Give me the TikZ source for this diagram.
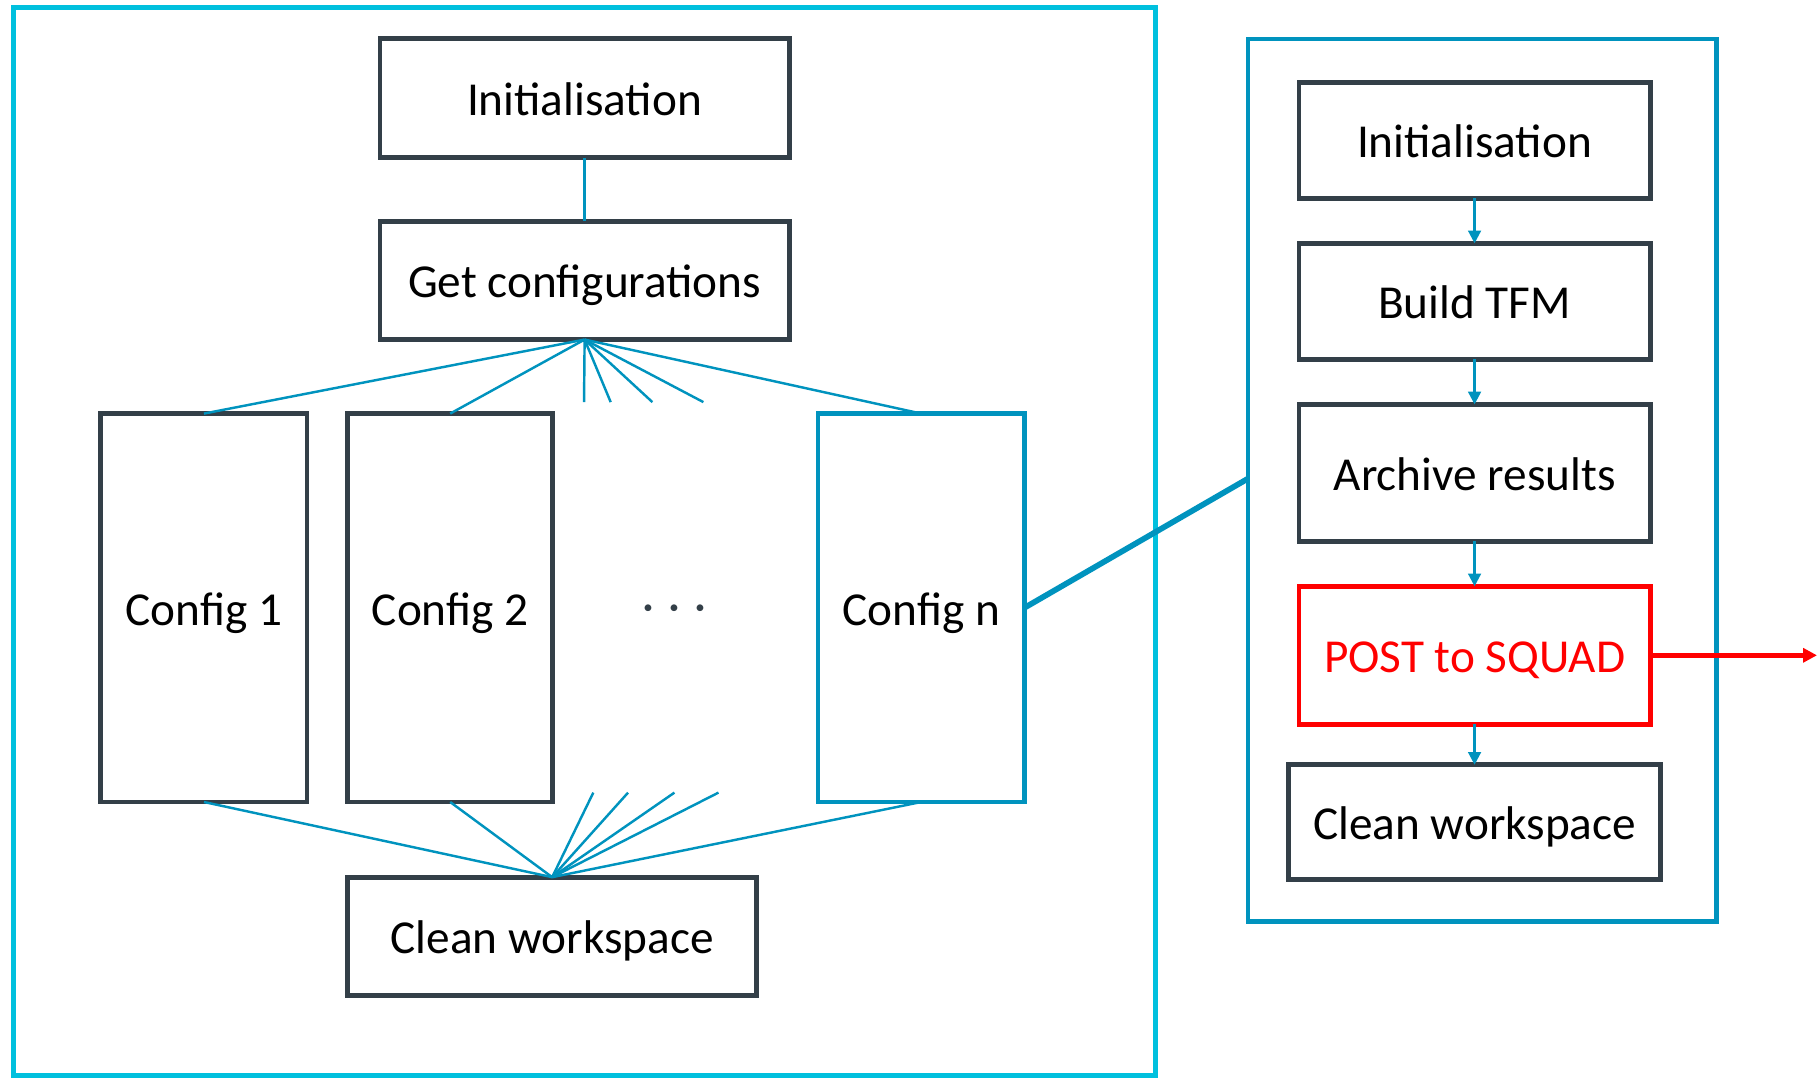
\documentclass[tikz,border=0pt]{standalone}
\usepackage{fontspec}
\setmainfont{Carlito}
\usepackage{tikz}
\usetikzlibrary{arrows.meta}
\definecolor{slate}{RGB}{51,63,72}
\definecolor{sky}{RGB}{0,192,222}
\definecolor{ocean}{RGB}{0,147,190}
\definecolor{alarm}{RGB}{255,0,0}

\begin{document}
\begin{tikzpicture}[x=0.01cm, y=-0.01cm, inner sep=0, outer sep=0,
    box/.style={draw=slate, line width=1.15pt, fill=white, text height=10pt, text depth=1.5pt,
        font=\fontsize{11.6}{14}\selectfont},
    frame/.style={draw=#1, line width=1.3pt},
    link/.style={draw=ocean, line width=0.6pt},
    flow/.style={draw=ocean, line width=0.6pt, -{Triangle[length=0.11cm, width=0.11cm]}}]
    \useasboundingbox (0,0) rectangle (1568,930);
    % kaders
    \node[frame=sky, minimum width=9.85cm, minimum height=9.21cm] (pipeline) at (504.5,467.5) {};
    \node[frame=ocean, line width=1.15pt, minimum width=4.04cm, minimum height=7.61cm] (detail) at (1279,414.5) {};
    % linker stappen
    \node[box, minimum width=3.53cm, minimum height=1.03cm] (initL) at (504.5,84.5) {Initialisation};
    \node[box, minimum width=3.53cm, minimum height=1.02cm] (getL) at (504.5,242) {Get configurations};
    \node[box, minimum width=1.78cm, minimum height=3.35cm] (cfg1) at (176,524.5) {Config 1};
    \node[box, minimum width=1.77cm, minimum height=3.35cm] (cfg2) at (388.5,524.5) {Config 2};
    \node[box, draw=ocean, minimum width=1.78cm, minimum height=3.35cm] (cfgn) at (795,524.5) {Config n};
    \node[font=\fontsize{11.6}{14}\selectfont, text=slate] (dots) at (582,529) {·\kern0.3em·\kern0.3em·};
    \node[box, minimum width=3.53cm, minimum height=1.02cm] (cleanL) at (476.5,808) {Clean workspace};
    % verbindingen
    \draw[link] (initL) -- (getL);
    \foreach \n in {cfg1, cfg2, cfgn}
        \draw[link] (getL.south) -- (\n.north);
    \foreach \x [count=\i] in {504,527,563,607} {
        \coordinate (up\i) at (\x,347);
        \draw[link] (getL.south) -- (up\i);
    }
    \foreach \n in {cfg1, cfg2, cfgn}
        \draw[link] (cleanL.north) -- (\n.south);
    \foreach \x [count=\i] in {512,542,582,620} {
        \coordinate (down\i) at (\x,684);
        \draw[link] (cleanL.north) -- (down\i);
    }
    % detail van config n
    \coordinate (hook) at (1077,413);
    \draw[ocean, line width=1.4pt] (cfgn.east) -- (hook);
    \node[box, minimum width=3.03cm, minimum height=1.00cm] (initR) at (1272.5,121) {Initialisation};
    \node[box, minimum width=3.03cm, minimum height=1.00cm] (tfmR) at (1272.5,260) {Build TFM};
    \node[box, minimum width=3.03cm, minimum height=1.18cm] (archR) at (1272.5,408) {Archive results};
    \node[box, draw=alarm, text=alarm, minimum width=3.03cm, minimum height=1.19cm] (postR) at (1272.5,565.5) {POST to SQUAD};
    \node[box, minimum width=3.21cm, minimum height=0.99cm] (cleanR) at (1272.5,709.5) {Clean workspace};
    \draw[flow] (initR) -- (tfmR);
    \draw[flow] (tfmR) -- (archR);
    \draw[flow] (archR) -- (postR);
    \draw[flow] (postR) -- (cleanR);
    \coordinate (squad) at (1568,565.5);
    \draw[alarm, line width=1.15pt, -{Triangle[length=0.12cm, width=0.12cm]}] (postR.east) -- (squad);
\end{tikzpicture}
\end{document}
